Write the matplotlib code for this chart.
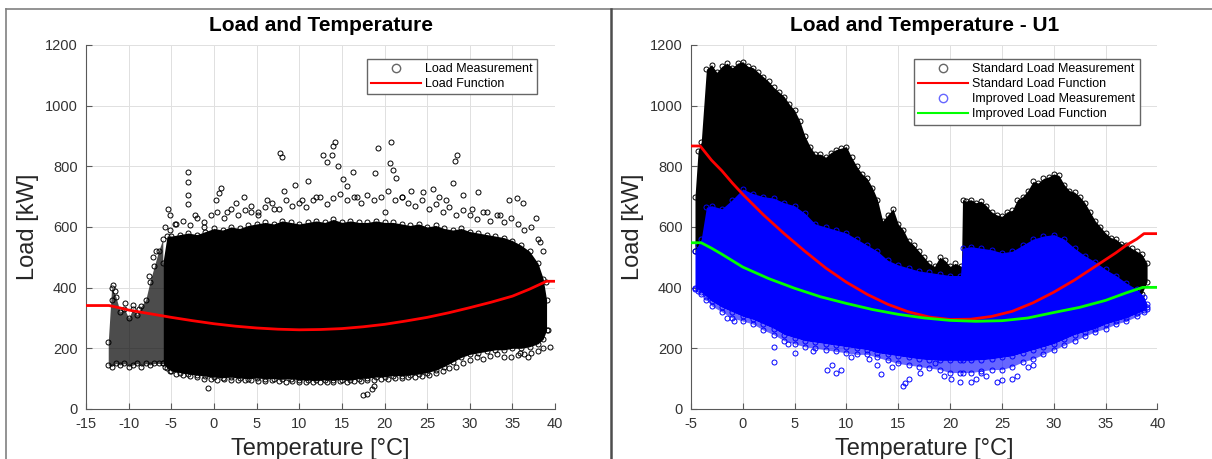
import numpy as np
import matplotlib
matplotlib.use("Agg")
from matplotlib import pyplot as plt
from matplotlib.lines import Line2D

plt.rcParams["font.family"] = ["Liberation Sans", "DejaVu Sans"]
plt.rcParams["axes.unicode_minus"] = False

# ---- left panel: all measurements ----
# dense core of the cloud (temperature, upper and lower load)
left_core_t = [-6.0, -5.5, -5, -4, -3, -2, -1, 0, 1, 2, 3, 4, 5, 6, 7, 8, 9, 10, 11, 12, 13,
               14, 15, 16, 17, 18, 19, 20, 21, 22, 23, 24, 25, 26, 27, 28, 29, 30, 31, 32, 33,
               34, 35, 36, 37, 38, 38.6, 39.0]
left_core_hi = [480, 570, 570, 575, 580, 575, 585, 595, 590, 600, 595, 605, 610, 615, 610, 620,
                615, 610, 615, 620, 615, 625, 615, 620, 615, 615, 620, 615, 615, 610, 605, 610,
                600, 605, 595, 590, 595, 585, 580, 575, 570, 565, 555, 540, 520, 480, 430, 360]
left_core_lo = [150, 135, 125, 120, 115, 112, 108, 105, 103, 105, 102, 100, 102, 100, 100, 98,
                100, 96, 95, 94, 96, 95, 97, 95, 100, 102, 105, 106, 110, 110, 112, 115, 120,
                128, 140, 155, 170, 180, 185, 190, 195, 195, 200, 200, 205, 215, 230, 260]
# looser band of circles around the core
left_fringe_t = [-5.8, -5.2, -4.4, -3.6, -2.8, -2, -1.2, -0.4, 0.4, 1.2, 2, 2.8, 3.6, 4.4, 5.2,
                 6, 6.8, 7.6, 8.4, 9.2, 10, 10.8, 11.6, 12.4, 13.2, 14, 14.8, 15.6, 16.4, 17.2,
                 18, 18.8, 19.6, 20.4, 21.2, 22, 22.8, 23.6, 24.4, 25.2, 26, 26.8, 27.6, 28.4,
                 29.2, 30, 30.8, 31.6, 32.4, 33.2, 34, 34.8, 35.6, 36.4, 37.2, 38, 38.6]
left_fringe_hi = [600, 590, 610, 620, 605, 630, 615, 640, 650, 630, 660, 640, 655, 670, 650,
                  665, 680, 660, 690, 670, 680, 665, 690, 700, 675, 695, 710, 690, 700, 680,
                  705, 690, 700, 720, 690, 700, 680, 670, 690, 660, 675, 650, 665, 640, 655,
                  640, 625, 650, 620, 640, 615, 630, 610, 590, 600, 560, 520]
left_fringe_lo = [140, 125, 115, 112, 108, 104, 100, 98, 97, 98, 96, 95, 94, 96, 93, 92, 94,
                  92, 90, 92, 90, 89, 90, 88, 90, 89, 91, 90, 92, 93, 95, 97, 98, 100, 102,
                  103, 105, 107, 110, 113, 118, 125, 135, 140, 150, 160, 170, 165, 175, 180,
                  172, 170, 178, 180, 185, 190, 200]
# sparse cold-weather part
left_cold_t = [-12.4, -12, -11.5, -11, -10.5, -10, -9.5, -9, -8.5, -8, -7.5, -7, -6.5, -6]
left_cold_hi = [220, 400, 370, 320, 330, 300, 330, 310, 340, 360, 420, 470, 520, 560]
left_cold_lo = [145, 140, 150, 145, 150, 140, 145, 150, 140, 150, 145, 150, 150, 150]
# single points outside the core
left_pts_t = [-11.8, -11.6, -11.9, -9.5, -10.4, -8.8, -7.6, -7.2, -6.8, -5.4, -5.2, -4.6, -3.0,
              -3.0, -3.0, -3.0, -2.2, -1.2, -0.7, 0.2, 0.8, 0.6, 1.5, 2.6, 3.5, 4.3, 5.2, 6.2,
              7.0, 7.75, 8.0, 8.2, 9.5, 10.3, 11.0, 12.0, 12.8, 13.2, 13.8, 14.0, 14.2, 14.6,
              15.1, 15.6, 16.3, 16.8, 17.5, 18.0, 18.5, 18.8, 18.9, 19.2, 20.1, 20.65, 20.7,
              21.0, 21.3, 22.1, 23.1, 24.5, 25.7, 26.4, 27.2, 28.0, 28.3, 28.5, 29.2, 30.3,
              31.0, 32.0, 33.5, 34.6, 35.5, 35.9, 36.2, 36.8, 37.8, 38.2, 38.9, 39.4, 39.2]
left_pts_y = [410, 390, 360, 343, 350, 330, 440, 500, 520, 660, 640, 610, 782, 747, 705, 675,
              640, 600, 70, 690, 730, 712, 650, 680, 700, 650, 640, 690, 660, 844, 832, 720,
              738, 690, 751, 700, 837, 815, 837, 867, 881, 801, 757, 735, 782, 700, 45, 48,
              65, 75, 778, 860, 650, 812, 881, 788, 760, 700, 720, 716, 725, 700, 690, 746,
              819, 837, 705, 660, 716, 650, 640, 690, 695, 184, 680, 171, 631, 550, 420, 205,
              260]
left_fit_t = [-15, -12.3, -11, -10, -7.5, -5, -2.5, 0, 2.5, 5, 7.5, 10, 12.5, 15, 17.5, 20,
              22.5, 25, 27.5, 30, 32.5, 35, 37, 39, 40]
left_fit_y = [341, 341, 333, 326, 314, 302, 291, 281, 273, 267, 263, 261, 262, 265, 271, 279,
              290, 302, 317, 334, 352, 372, 395, 421, 421]

# ---- right panel: unit U1 ----
std_t = [-4.6, -4.3, -4.0, -3.5, -3.0, -2.5, -2, -1.5, -1, -0.5, 0, 0.5, 1, 1.5, 2, 2.5, 3,
         3.5, 4, 4.5, 5, 5.5, 6, 6.5, 7, 7.5, 8, 8.5, 9, 9.5, 10, 10.5, 11, 11.5, 12, 12.5, 13,
         13.5, 14, 14.5, 15, 15.5, 16, 16.5, 17, 17.5, 18, 18.5, 19, 19.5, 20, 20.5, 21.1, 21.2,
         21.5, 22, 22.5, 23, 23.5, 24, 24.5, 25, 25.5, 26, 26.5, 27, 27.5, 28, 28.5, 29, 29.5,
         30, 30.5, 31, 31.5, 32, 32.5, 33, 33.5, 34, 34.5, 35, 35.5, 36, 36.5, 37, 37.5, 38,
         38.5, 39]
std_hi = [700, 850, 880, 1120, 1135, 1110, 1130, 1140, 1125, 1140, 1145, 1130, 1125, 1110, 1095,
          1080, 1060, 1045, 1030, 1005, 985, 950, 900, 865, 840, 840, 830, 845, 855, 860, 865,
          830, 800, 775, 760, 730, 690, 620, 640, 660, 610, 590, 555, 540, 520, 500, 480, 470,
          500, 490, 470, 480, 470, 690, 685, 690, 680, 685, 670, 650, 640, 635, 650, 655, 690,
          700, 720, 750, 745, 760, 765, 775, 770, 740, 720, 715, 700, 680, 650, 620, 600, 580,
          565, 560, 545, 540, 530, 520, 510, 480]
std_lo = [520, 515, 510, 500, 450, 420, 400, 400, 400, 400, 400, 400, 400, 400, 400, 400, 400,
          400, 400, 400, 400, 400, 400, 400, 400, 400, 400, 400, 400, 400, 400, 400, 400, 400,
          400, 400, 400, 400, 400, 400, 400, 400, 400, 400, 400, 400, 400, 400, 400, 400, 400,
          400, 400, 400, 400, 400, 400, 400, 400, 400, 400, 400, 400, 400, 400, 400, 400, 400,
          400, 400, 400, 400, 400, 400, 400, 400, 400, 400, 400, 400, 400, 400, 400, 390, 385,
          380, 375, 370, 380, 420]
imp_t = [-4.6, -4.3, -4.0, -3.5, -3.0, -2, -1, 0, 1, 2, 3, 4, 5, 6, 7, 8, 9, 10, 11, 12, 13, 14,
         15, 16, 17, 18, 19, 20, 21, 21.2, 22, 23, 24, 25, 26, 27, 28, 29, 30, 31, 32, 33, 34,
         35, 36, 37, 38, 38.7, 39.0]
imp_hi = [520, 540, 560, 665, 670, 660, 690, 725, 710, 700, 695, 680, 670, 645, 610, 600, 590,
          580, 560, 540, 520, 490, 475, 465, 455, 450, 445, 440, 440, 530, 535, 530, 525, 515,
          520, 540, 560, 570, 575, 560, 530, 505, 485, 460, 440, 415, 395, 370, 345]
imp_lo = [400, 395, 385, 370, 355, 335, 320, 305, 295, 280, 265, 245, 235, 225, 220, 215, 210,
          205, 200, 195, 185, 180, 175, 170, 165, 162, 160, 160, 160, 160, 160, 162, 165, 170,
          175, 185, 195, 205, 215, 230, 245, 255, 265, 280, 290, 300, 315, 325, 335]
# looser lower band of the improved cloud, on the same temperatures
imp_fringe_lo = [395, 390, 380, 360, 340, 320, 300, 290, 280, 260, 245, 225, 215, 205, 200,
                 195, 190, 185, 180, 180, 170, 160, 150, 145, 140, 135, 130, 120, 120, 120,
                 120, 125, 130, 130, 140, 155, 165, 180, 195, 210, 225, 240, 255, 265, 280,
                 290, 305, 320, 330]
imp_pts_t = [3.0, 3.0, 5.0, 8.1, 8.6, 9.0, 9.5, 11.0, 13.3, 13.0, 15.5, 15.7, 16.0, 17.1, 18.5,
             20.1, 21.0, 22.0, 22.5, 23.5, 24.5, 25.0, 26.0, 26.5, 27.5, 28.0, -0.8, -1.5,
             4.4, 6.8, 12.2, 14.4, 19.4, 23.0, 10.4]
imp_pts_y = [205, 155, 185, 130, 145, 120, 130, 210, 115, 145, 75, 85, 100, 120, 150, 100, 90,
             90, 100, 110, 90, 95, 100, 110, 140, 145, 290, 300, 215, 190, 165, 140, 110, 120,
             170]
std_fit_t = [-5, -4.1, -3, -2, -1, 0, 2, 4, 6, 8, 10, 12, 14, 16, 18, 20, 22, 24, 26, 28, 30, 32,
             34, 36, 37, 38, 38.7, 40]
std_fit_y = [867, 867, 820, 785, 745, 708, 640, 578, 520, 465, 418, 378, 345, 320, 303, 295,
             296, 305, 322, 350, 385, 425, 470, 515, 540, 560, 578, 578]
imp_fit_t = [-5, -4, -3, -2, 0, 2.5, 5, 7.5, 10, 12.5, 15, 17.5, 20, 22.5, 25, 27.5, 30, 32.5,
             35, 37, 38.6, 40]
imp_fit_y = [548, 548, 530, 510, 468, 430, 398, 370, 348, 328, 312, 300, 292, 289, 291, 300,
             318, 335, 358, 383, 401, 401]

y_ticks = [0, 200, 400, 600, 800, 1000, 1200]
BLUE = "#0000ff"
GREEN = "#00ff00"


def style_axes(ax, title, xlim, xticks):
    ax.set_xlim(*xlim)
    ax.set_ylim(0, 1200)
    ax.set_xticks(xticks)
    ax.set_yticks(y_ticks)
    ax.grid(True, color="0.88", lw=0.7)
    ax.set_axisbelow(True)
    for s in ["top", "right"]:
        ax.spines[s].set_visible(False)
    for s in ["left", "bottom"]:
        ax.spines[s].set_color("0.35")
    ax.tick_params(direction="in", length=4, colors="0.35", labelcolor="0.2", labelsize=10.5,
                   pad=6)
    ax.set_title(title, fontsize=15, fontweight="bold", pad=10)
    ax.set_ylabel("Load [kW]", fontsize=17, color="0.15", labelpad=4)
    ax.set_xlabel("Temperature [°C]", fontsize=17, color="0.15", labelpad=5)


def circles(ax, t, y, color, z=2):
    ax.plot(t, y, "o", mfc="none", mec=color, ms=3.6, mew=0.7, zorder=z)


def cloud(ax, t, hi, lo, color, alpha=1.0):
    ax.fill_between(t, lo, hi, color=color, alpha=alpha, lw=0, zorder=2)
    circles(ax, t, hi, color)
    circles(ax, t, lo, color)


def legend(ax, handles, labels):
    ax.legend(handles, labels, loc="upper right", bbox_to_anchor=(0.975, 0.98), fontsize=9,
              fancybox=False, edgecolor="0.4", framealpha=1, handlelength=4, borderpad=0.35,
              labelspacing=0.25, handletextpad=0.3)


fig = plt.figure(figsize=(12.12, 4.59), dpi=100)

ax1 = fig.add_axes([0.071, 0.109, 0.387, 0.793])
circles(ax1, left_fringe_t, left_fringe_hi, "k")
circles(ax1, left_fringe_t, left_fringe_lo, "k")
cloud(ax1, left_cold_t, left_cold_hi, left_cold_lo, "k", alpha=0.7)
cloud(ax1, left_core_t, left_core_hi, left_core_lo, "k")
circles(ax1, left_pts_t, left_pts_y, "k")
ax1.plot(left_fit_t, left_fit_y, color="r", lw=2, zorder=4)
style_axes(ax1, "Load and Temperature", (-15, 40), range(-15, 41, 5))
legend(ax1, [Line2D([], [], ls="none", marker="o", mfc="none", mec="0.4", ms=6),
             Line2D([], [], color="r", lw=1.5)],
       ["Load Measurement", "Load Function"])

ax2 = fig.add_axes([0.570, 0.109, 0.385, 0.793])
cloud(ax2, std_t, std_hi, std_lo, "k")
ax2.fill_between(imp_t, imp_fringe_lo, imp_lo, color=BLUE, alpha=0.6, lw=0, zorder=2)
circles(ax2, imp_t, imp_fringe_lo, BLUE)
cloud(ax2, imp_t, imp_hi, imp_lo, BLUE)
circles(ax2, imp_pts_t, imp_pts_y, BLUE, z=3)
ax2.plot(std_fit_t, std_fit_y, color="r", lw=2, zorder=4)
ax2.plot(imp_fit_t, imp_fit_y, color=GREEN, lw=2, zorder=4)
style_axes(ax2, "Load and Temperature - U1", (-5, 40), range(-5, 41, 5))
legend(ax2, [Line2D([], [], ls="none", marker="o", mfc="none", mec="0.4", ms=6),
             Line2D([], [], color="r", lw=1.5),
             Line2D([], [], ls="none", marker="o", mfc="none", mec=BLUE, ms=6, alpha=0.6),
             Line2D([], [], color=GREEN, lw=1.5)],
       ["Standard Load Measurement", "Standard Load Function",
        "Improved Load Measurement", "Improved Load Function"])

# outer frame of the screenshot
fig.add_artist(Line2D([0.005, 1.0], [0.981, 0.981], color="0.5", lw=1.2))
fig.add_artist(Line2D([0.005, 0.005], [0.0, 0.981], color="0.5", lw=1.2))
fig.add_artist(Line2D([0.504, 0.504], [0.0, 0.981], color="0.3", lw=1.8))

fig.savefig("out.png", dpi=100)
